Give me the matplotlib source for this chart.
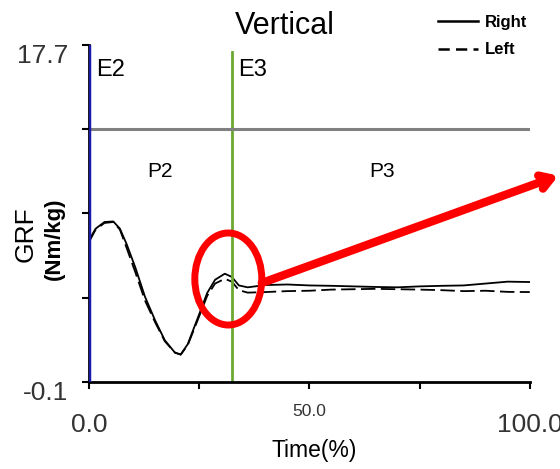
import matplotlib.pyplot as plt
from matplotlib.patches import Ellipse
from matplotlib.lines import Line2D
from matplotlib.transforms import ScaledTranslation

# Vertical GRF over the stance phase (% time), right and left leg
time_right = [0, 1.5, 3.5, 5.5, 7, 8.5, 10.5, 12.7, 15.0, 17.2, 19.5, 20.8, 22.4, 24.7,
              26.8, 28.6, 30.8, 32.4, 34.0, 36.0, 40, 45, 50, 55, 60, 65, 70, 75, 80,
              85, 90, 95, 100]
grf_right = [7.4, 8.0, 8.35, 8.38, 8.0, 7.2, 5.95, 4.4, 3.15, 2.1, 1.45, 1.35, 1.9, 3.3,
             4.6, 5.3, 5.62, 5.45, 5.0, 4.9, 5.02, 5.05, 5.0, 4.98, 4.95, 4.92, 4.9, 4.95,
             4.98, 5.0, 5.1, 5.2, 5.18]
time_left = time_right
grf_left = [7.3, 7.95, 8.3, 8.35, 7.95, 7.0, 5.7, 4.2, 3.05, 2.05, 1.45, 1.35, 1.85, 3.2,
            4.45, 5.1, 5.35, 5.2, 4.75, 4.62, 4.65, 4.7, 4.72, 4.78, 4.8, 4.82, 4.8, 4.78,
            4.75, 4.7, 4.72, 4.66, 4.65]

y_ticks = [-0.1, 4.35, 8.8, 13.25, 17.7]
y_labels = ['-0.1', '', '', '', '17.7']
x_ticks = [0, 25, 50, 75, 100]
x_labels = ['0.0', '', '50.0', '', '100.0']

event_e2 = 0.0
event_e3 = 32.4
ref_level = 13.25

FONT = ['Liberation Sans', 'DejaVu Sans']
TICK_COL = '#333333'

fig = plt.figure(figsize=(5.6, 4.69), dpi=100)
ax = fig.add_axes([0.159, 0.1855, 0.787, 0.7186])

ax.plot(time_right, grf_right, color='black', lw=1.3, label='Right')
ax.plot(time_left, grf_left, color='black', lw=1.3, dashes=(8, 3), label='Left')

# phase lines
ax.axvline(event_e2, color='#1a1aa8', lw=2.5, zorder=5)
ax.plot([event_e3, event_e3], [-0.1, 17.33], color='#6aa832', lw=2)
ax.axhline(ref_level, color='#808080', lw=2.2)

ax.set_xlim(0, 100)
ax.set_ylim(-0.1, 17.7)
ax.spines['top'].set_visible(False)
ax.spines['right'].set_visible(False)
ax.spines['left'].set_linewidth(2)
ax.spines['bottom'].set_linewidth(2)

ax.set_yticks(y_ticks)
ax.set_yticklabels(y_labels, family=FONT, fontsize=19, color=TICK_COL)
ax.set_xticks(x_ticks)
ax.set_xticklabels(x_labels, family=FONT, fontsize=19, color=TICK_COL)
ax.tick_params(axis='both', direction='out', length=5, width=1.5)
ax.tick_params(axis='x', pad=17)
ax.tick_params(axis='y', pad=10)

down = ScaledTranslation(0, -6 / 72, fig.dpi_scale_trans)
for lab in ax.get_yticklabels():
    lab.set_transform(lab.get_transform() + down)
mid = ax.get_xticklabels()[2]
mid.set_fontsize(12.5)
mid.set_transform(mid.get_transform() + ScaledTranslation(0, 6 / 72, fig.dpi_scale_trans))

ax.text(1.5, 16.4, 'E2', family=FONT, fontsize=17, va='center')
ax.text(33.8, 16.4, 'E3', family=FONT, fontsize=17, va='center')
ax.text(16.2, 11.0, 'P2', family=FONT, fontsize=15, ha='center', va='center')
ax.text(66.5, 11.0, 'P3', family=FONT, fontsize=15, ha='center', va='center')

# highlight around E3 and arrow
ax.add_patch(Ellipse((31.6, 5.34), 15.2, 4.86, fill=False, ec='#ff0000', lw=5, zorder=6))
ax.annotate('', xy=(106.5, 10.8), xytext=(39.2, 5.13), annotation_clip=False,
            arrowprops=dict(arrowstyle='->,head_length=0.8,head_width=0.5',
                            color='#ff0000', lw=6, shrinkA=0, shrinkB=0))

fig.text(0.509, 0.945, 'Vertical', family=FONT, fontsize=22, ha='center', va='center')
fig.text(0.561, 0.04, 'Time(%)', family=FONT, fontsize=16.5, ha='center', va='center')
fig.text(0.045, 0.5, 'GRF', family=FONT, fontsize=19, rotation=90, ha='center', va='center')
fig.text(0.097, 0.49, '(Nm/kg)', family=FONT, fontsize=16, fontweight='bold',
         rotation=90, ha='center', va='center')

handles = [Line2D([], [], color='black', lw=1.8),
           Line2D([], [], color='black', lw=1.8, dashes=(4.5, 2.5))]
fig.legend(handles, ['Right', 'Left'], loc='upper left', bbox_to_anchor=(0.755, 1.0),
           frameon=False, handlelength=2.4, handletextpad=0.4, labelspacing=0.75,
           prop=dict(family=FONT, size=12, weight='bold'))

fig.savefig('out.png', dpi=100)
